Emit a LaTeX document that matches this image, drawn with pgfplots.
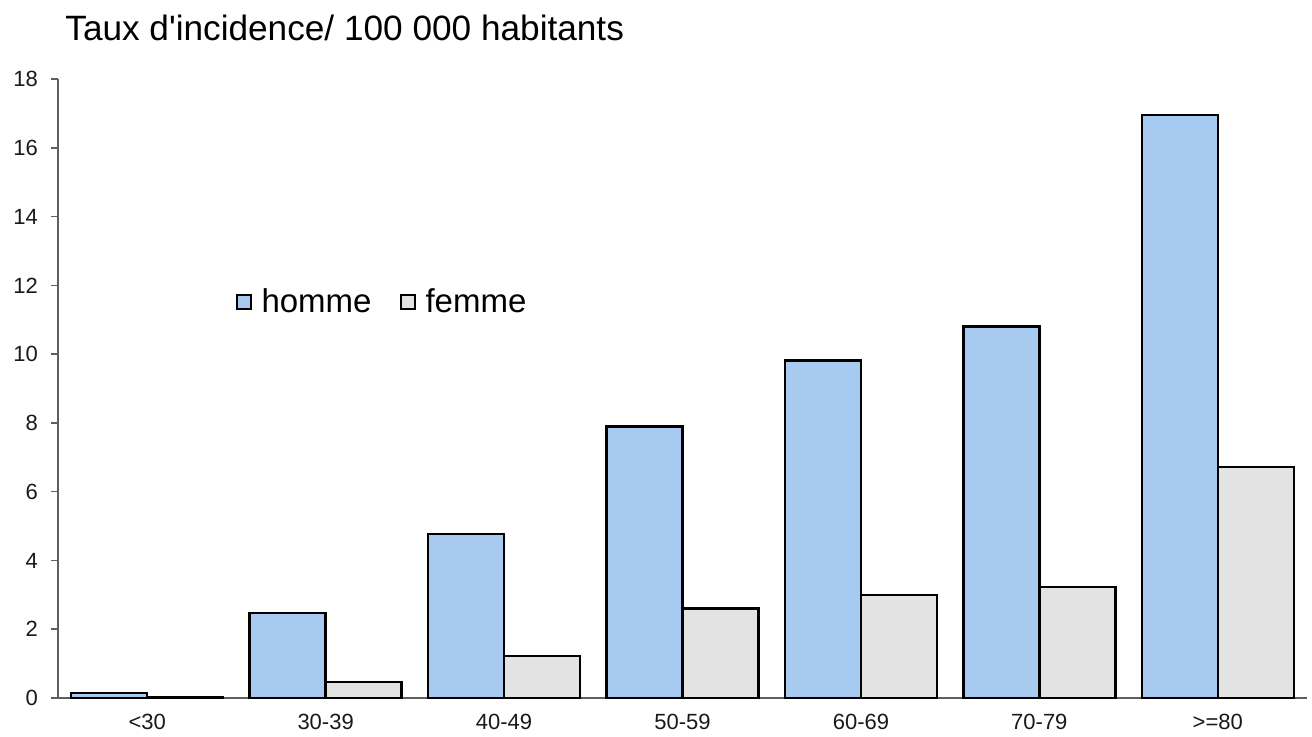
\documentclass[border=0pt]{standalone}
\usepackage{fontspec}
\setmainfont{Liberation Sans}
\usepackage{pgfplots}
\pgfplotsset{compat=1.18}
\definecolor{hommefill}{RGB}{166,202,240}
\definecolor{femmefill}{RGB}{227,227,227}
\definecolor{axisgray}{RGB}{95,95,95}
\begin{document}
\begin{tikzpicture}
\useasboundingbox (-29pt,-19pt) rectangle (627pt,349pt);
\begin{axis}[
  at={(0,0)}, anchor=south west,
  scale only axis, width=624.5pt, height=309.5pt,
  ybar=0pt, bar width=0.426,
  xmin=-0.5, xmax=6.5, ymin=0, ymax=18,
  ytick={0,2,...,18},
  xtick={0,...,6},
  xticklabels={<30,30-39,40-49,50-59,60-69,70-79,>=80},
  minor xtick={-0.5,0.5,...,6.5},
  xtick style={draw=none},
  minor x tick style={axisgray, line width=0.8pt},
  y tick style={axisgray, line width=0.8pt},
  major tick length=3.5pt, minor tick length=3.5pt,
  tick align=outside,
  axis lines*=left,
  axis line style={axisgray, line width=0.8pt},
  /pgf/number format/assume math mode=true,
  tick label style={font=\fontsize{11}{13}\selectfont, text=black!90},
  yticklabel style={xshift=-3pt},
  xticklabel style={yshift=-1pt},
  legend style={at={(0.137,0.64)}, anchor=west, draw=none, fill=none,
    font=\fontsize{16.5}{18}\selectfont, column sep=3pt,
    /tikz/every even column/.append style={column sep=12pt}},
  legend columns=2,
  legend image code/.code={\draw[#1, line width=1pt] (0pt,-3.5pt) rectangle (7pt,3.5pt);},
]
\addplot[draw=black, line width=1.25pt, fill=hommefill] coordinates {
  (0,0.15) (1,2.47) (2,4.77) (3,7.9) (4,9.82) (5,10.81) (6,16.95)};
\addplot[draw=black, line width=1.25pt, fill=femmefill] coordinates {
  (0,0.03) (1,0.46) (2,1.22) (3,2.61) (4,3.0) (5,3.23) (6,6.72)};
\legend{homme,femme}
\end{axis}
\node[anchor=west, font=\fontsize{17.6}{20}\selectfont, inner sep=0pt] at (3.5pt,335pt) {Taux d\textquotesingle incidence/ 100 000 habitants};
\end{tikzpicture}
\end{document}
